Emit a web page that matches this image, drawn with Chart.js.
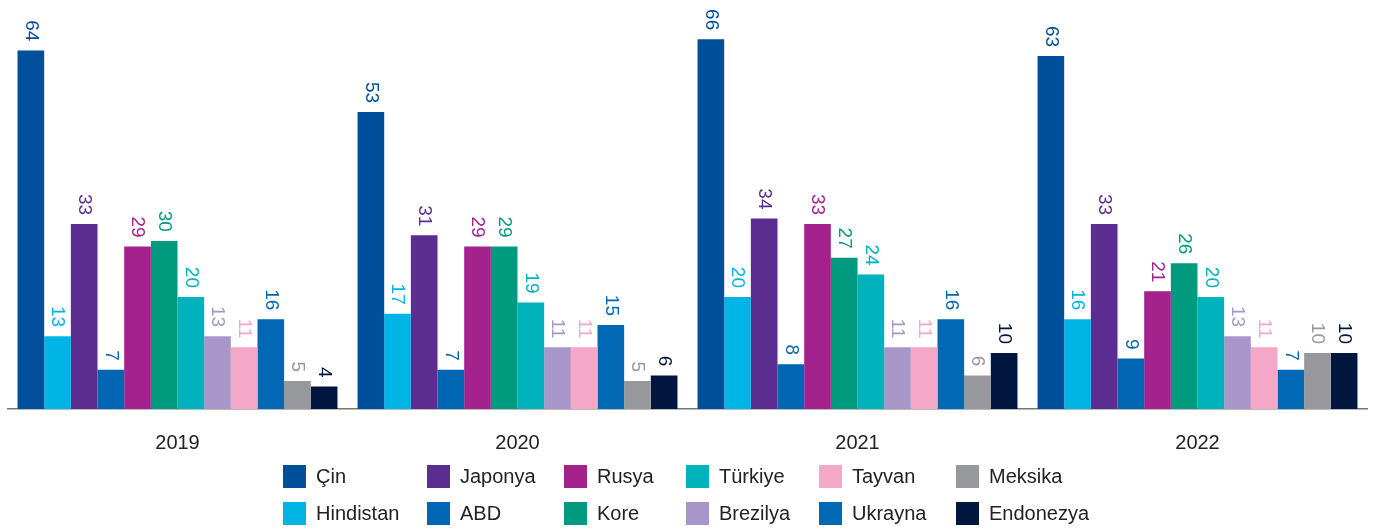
<!DOCTYPE html>
<html>
<head>
<meta charset="utf-8">
<script src="https://cdn.jsdelivr.net/npm/chart.js@4/dist/chart.umd.min.js"></script>
<style>
  html, body { margin: 0; padding: 0; background: #fff; }
  #wrap { position: relative; width: 1379px; height: 529px; }
  #legend { position: absolute; left: 0; top: 0; width: 1379px; height: 529px; pointer-events: none; }
  .item { position: absolute; display: flex; align-items: center; height: 23px;
          font-family: "Liberation Sans", Arial, sans-serif; font-size: 20px; color: #222; }
  .box { width: 23px; height: 23px; margin-right: 10px; }
</style>
</head>
<body>
<div id="wrap">
  <canvas id="myChart" width="1379" height="529"></canvas>
  <div id="legend"></div>
</div>
<script>
// years on the x axis
var yillar = ['2019', '2020', '2021', '2022'];
// series, in bar order
var ulkeler = ['Çin', 'Hindistan', 'Japonya', 'ABD', 'Rusya', 'Kore', 'Türkiye', 'Brezilya', 'Tayvan', 'Ukrayna', 'Meksika', 'Endonezya'];
var renkler = ['#004f9b', '#00b4e6', '#5c2d91', '#0066b3', '#a4228c', '#009a7e', '#00b2bb', '#a996c8', '#f4a7c6', '#0068b5', '#97989c', '#00163f'];

var cin       = [64, 53, 66, 63];
var hindistan = [13, 17, 20, 16];
var japonya   = [33, 31, 34, 33];
var abd       = [7, 7, 8, 9];
var rusya     = [29, 29, 33, 21];
var kore      = [30, 29, 27, 26];
var turkiye   = [20, 19, 24, 20];
var brezilya  = [13, 11, 11, 13];
var tayvan    = [11, 11, 11, 11];
var ukrayna   = [16, 15, 16, 7];
var meksika   = [5, 5, 6, 10];
var endonezya = [4, 6, 10, 10];

var degerler = [cin, hindistan, japonya, abd, rusya, kore, turkiye, brezilya, tayvan, ukrayna, meksika, endonezya];

var datasets = [];
for (var i in ulkeler) {
  datasets.push({
    label: ulkeler[i],
    data: degerler[i],
    backgroundColor: renkler[i],
    borderWidth: 0
  });
}

// rotated value labels above each bar
var etiketler = {
  id: 'etiketler',
  afterDatasetsDraw: function(chart) {
    var ctx = chart.ctx;
    chart.data.datasets.forEach(function(ds, di) {
      var meta = chart.getDatasetMeta(di);
      meta.data.forEach(function(bar, j) {
        ctx.save();
        ctx.translate(bar.x, bar.y - 9);
        ctx.rotate(Math.PI / 2);
        ctx.font = '19px "Liberation Sans", Arial, sans-serif';
        ctx.fillStyle = ds.backgroundColor;
        ctx.textAlign = 'right';
        ctx.textBaseline = 'middle';
        ctx.fillText(ds.data[j], 0, 0);
        ctx.restore();
      });
    });
  }
};

var ctx = document.getElementById('myChart');
var chart = new Chart(ctx, {
  type: 'bar',
  data: { labels: yillar, datasets: datasets },
  plugins: [etiketler],
  options: {
    responsive: false,
    animation: false,
    layout: { padding: { left: 7.5, right: 11.5, top: 0, bottom: 0 } },
    plugins: { legend: { display: false }, tooltip: { enabled: false } },
    datasets: { bar: { categoryPercentage: 0.941, barPercentage: 1 } },
    scales: {
      x: {
        grid: { display: false, drawTicks: false },
        border: { display: true, color: '#777', width: 1.5 },
        ticks: { padding: 22, color: '#222', font: { size: 20, family: '"Liberation Sans", Arial, sans-serif' } },
        afterFit: function(s) { s.height = 120; }
      },
      y: { display: false, min: 0, max: 73 }
    }
  }
});

// legend laid out in columns like the original
var sutunX = [283, 427, 564, 686, 819, 956];
var satirY = [465, 502];
var lg = document.getElementById('legend');
for (var k = 0; k < ulkeler.length; k++) {
  var col = Math.floor(k / 2), row = k % 2;
  var d = document.createElement('div');
  d.className = 'item';
  d.style.left = sutunX[col] + 'px';
  d.style.top = satirY[row] + 'px';
  d.innerHTML = '<span class="box" style="background:' + renkler[k] + '"></span><span>' + ulkeler[k] + '</span>';
  lg.appendChild(d);
}
</script>
</body>
</html>
